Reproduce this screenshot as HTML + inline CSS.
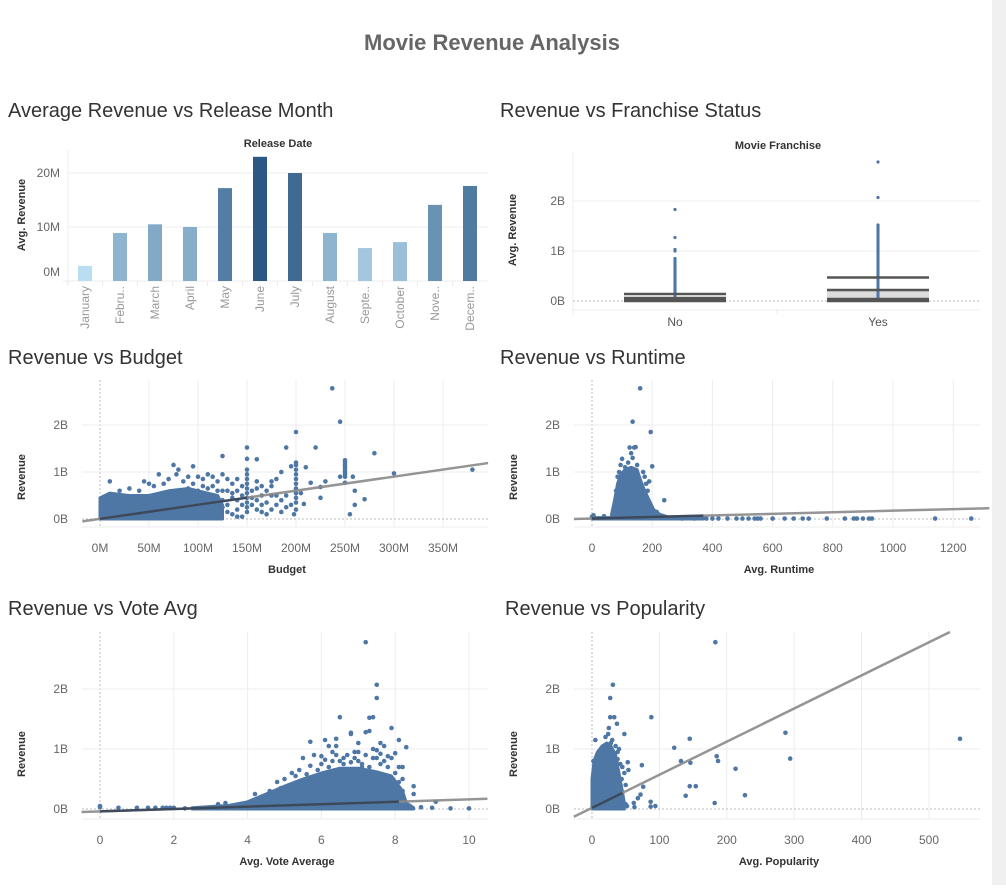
<!DOCTYPE html>
<html><head><meta charset="utf-8">
<style>
html,body{margin:0;padding:0;background:#fff;}
body{width:1006px;height:885px;overflow:hidden;position:relative;font-family:"Liberation Sans",sans-serif;}
svg text{font-family:"Liberation Sans",sans-serif;}
</style></head>
<body>
<svg id="dash" width="1006" height="885" viewBox="0 0 1006 885" xmlns="http://www.w3.org/2000/svg">
<rect x="992" y="0" width="14" height="885" fill="#f0f0f0"/>
<text x="492" y="50" text-anchor="middle" font-size="22" font-weight="bold" fill="#666">Movie Revenue Analysis</text>
<text x="8" y="117" font-size="20" fill="#333">Average Revenue vs Release Month</text>
<text x="500" y="117" font-size="20" fill="#333">Revenue vs Franchise Status</text>
<text x="8" y="364" font-size="20" fill="#333">Revenue vs Budget</text>
<text x="500" y="364" font-size="20" fill="#333">Revenue vs Runtime</text>
<text x="8" y="615" font-size="20" fill="#333">Revenue vs Vote Avg</text>
<text x="505" y="615" font-size="20" fill="#333">Revenue vs Popularity</text>
<g id="layer"></g>
</svg>
<script>
// ---- Data ----
const months = ["January","Febru..","March","April","May","June","July","August","Septe..","October","Nove..","Decem.."];
const monthRevenueM = [2.8,8.9,10.5,10.0,17.2,23.0,20.0,8.9,6.1,7.2,14.1,17.6];
const barTicks = [0,10,20];
const barTickLabels = ["0M","10M","20M"];

const franchiseCats = ["No","Yes"];
const boxLow = [0,0];
const boxQ1 = [0,0];
const boxMedian = [0.02,0.04];
const boxQ3 = [0.06,0.22];
const boxHigh = [0.14,0.47];
const outliersNo = [1.83,1.27,1.03,1.0,0.85,0.82,0.79,0.76,0.73,0.7,0.67,0.64,0.61,0.58,0.55,0.52,0.49,0.46,0.43,0.4,0.37,0.34,0.31,0.28,0.25,0.22,0.19,0.16];
const outliersYes = [2.78,2.07,1.52,1.49,1.45,1.41,1.37,1.33,1.29,1.25,1.21,1.17,1.13,1.09,1.05,1.01,0.97,0.93,0.89,0.85,0.81,0.77,0.73,0.69,0.65,0.61,0.57,0.53,0.49];
const revTicks = [0,1,2];
const revTickLabels = ["0B","1B","2B"];

const budgetTicks = [0,50,100,150,200,250,300,350];
const budgetTickLabels = ["0M","50M","100M","150M","200M","250M","300M","350M"];
const budgetDenseX = [0,0,10,30,50,70,90,100,110,120,125,125];
const budgetDenseY = [0,0.45,0.55,0.5,0.5,0.6,0.65,0.6,0.55,0.5,0.3,0];
const budgetPts = [[237,2.78],[245,2.07],[200,1.85],[190,1.52],[220,1.52],[150,1.52],[125,1.34],[280,1.4],[150,1.28],[160,1.27],[200,1.2],[200,1.15],[195,1.12],[210,1.1],[250,1.25],[250,1.2],[250,1.15],[250,1.1],[250,1.05],[250,1.0],[250,0.95],[250,0.9],[245,0.9],[258,0.9],[300,0.97],[380,1.05],[230,0.8],[215,0.77],[225,0.68],[225,0.45],[270,0.42],[260,0.6],[260,0.3],[255,0.1],[250,0.77],[200,1.05],[200,0.95],[200,0.85],[200,0.75],[200,0.65],[200,0.55],[200,0.45],[200,0.35],[200,0.2],[198,0.1],[205,0.55],[208,0.32],[185,1.0],[180,0.85],[175,0.8],[175,0.7],[170,0.6],[165,0.5],[160,0.8],[160,0.65],[160,0.4],[160,0.2],[150,1.05],[150,0.95],[150,0.85],[150,0.75],[150,0.65],[150,0.55],[150,0.45],[150,0.35],[150,0.25],[150,0.15],[145,0.05],[140,0.85],[140,0.6],[135,0.75],[130,0.85],[130,0.6],[125,0.95],[120,0.8],[115,0.9],[110,0.95],[105,0.7],[100,0.9],[95,1.12],[90,0.9],[80,1.05],[75,1.15],[78,0.95],[70,0.85],[60,0.95],[65,0.75],[50,0.75],[45,0.8],[10,0.8],[30,0.65],[40,0.6],[120,0.45],[130,0.3],[140,0.2],[110,0.65],[100,0.6],[90,0.65],[185,0.4],[175,0.2],[165,0.15],[190,0.25],[180,0.5],[170,0.35],[155,0.45],[135,0.45],[125,0.25],[140,0.4],[115,0.2],[145,0.3],[20,0.6],[55,0.7],[85,0.8],[95,0.75],[105,0.85],[115,0.7],[125,0.6],[130,0.15],[135,0.1],[140,0.05],[145,0.5],[155,0.6],[165,0.3],[170,0.1],[180,0.3],[185,0.15],[190,0.5],[195,0.3],[135,0.55],[145,0.7],[120,0.6],[125,0.4],[115,0.35],[155,0.3],[165,0.7],[175,0.5]];
const budgetTrend = [[-18,-0.05],[396,1.19]];

const runtimeTicks = [0,200,400,600,800,1000,1200];
const runtimeTickLabels = ["0","200","400","600","800","1000","1200"];
const runtimeDenseX = [65,65,75,85,95,110,130,150,160,175,190,205,225,250,250];
const runtimeDenseY = [0,0.1,0.4,0.75,0.95,1.05,1.1,1.05,0.85,0.6,0.4,0.2,0.1,0.05,0];
const runtimeBaseX = [0,0,370,370];
const runtimeBaseY = [0,0.03,0.03,0];
const runtimePts = [[160,2.78],[135,2.07],[195,1.85],[125,1.52],[140,1.52],[145,1.53],[130,1.4],[100,1.28],[200,1.12],[95,1.15],[170,1.0],[190,0.8],[185,0.6],[240,0.4],[215,0.15],[175,0.9],[110,1.1],[90,1.0],[120,1.2],[135,1.3],[150,1.15],[85,0.9],[80,0.6],[180,0.75],[0,0.05],[5,0.08],[40,0.06],[300,0.01],[340,0.01],[380,0.01],[400,0.01],[420,0.01],[450,0.01],[480,0.01],[500,0.01],[520,0.01],[540,0.01],[550,0.01],[560,0.01],[600,0.01],[640,0.01],[670,0.01],[700,0.01],[720,0.01],[780,0.01],[840,0.01],[870,0.01],[880,0.01],[900,0.01],[920,0.01],[930,0.01],[1140,0.01],[1260,0.01]];
const runtimeTrend = [[-60,0.0],[1320,0.23]];

const voteTicks = [0,2,4,6,8,10];
const voteTickLabels = ["0","2","4","6","8","10"];
const voteDenseX = [2.5,2.5,3.5,4,4.5,5,5.5,6,6.5,7,7.5,7.9,8.2,8.3,8.5,8.5];
const voteDenseY = [0,0.02,0.06,0.12,0.25,0.38,0.5,0.6,0.68,0.68,0.62,0.55,0.3,0.1,0.02,0];
const votePts = [[7.2,2.78],[7.5,2.07],[7.5,1.85],[6.5,1.53],[7.3,1.52],[7.4,1.53],[7.9,1.35],[6.8,1.27],[6.8,1.25],[7.2,1.28],[7.3,1.3],[5.7,1.12],[6.1,1.15],[6.4,1.17],[6.2,1.05],[6.4,1.05],[7.0,1.1],[7.6,1.1],[8.1,1.15],[8.3,1.03],[7.7,1.05],[7.4,1.0],[7.5,0.98],[7.8,0.88],[8.0,0.93],[7.9,0.85],[8.1,0.7],[8.2,0.7],[5.8,0.9],[5.5,0.85],[6.0,0.88],[6.7,0.9],[7.1,0.75],[7.3,0.7],[6.5,0.8],[6.9,0.85],[5.2,0.6],[5.6,0.58],[4.8,0.45],[4.9,0.35],[4.6,0.3],[4.2,0.25],[3.4,0.1],[3.2,0.08],[8.5,0.38],[8.5,0.25],[8.4,0.05],[8.7,0.03],[9.0,0.02],[9.1,0.12],[9.5,0.01],[10,0.01],[0,0.03],[0,0.05],[0.5,0.02],[1,0.02],[1.3,0.02],[1.5,0.02],[1.7,0.02],[1.8,0.02],[1.9,0.02],[2,0.02],[2.3,0.01],[8.2,0.5],[8.2,0.3],[8.1,0.45],[6.3,0.95],[6.9,0.95],[7.7,0.8],[7.1,0.7],[7.6,0.75],[6.6,0.75],[6.2,0.7],[5.9,0.65],[7.0,0.8],[7.4,0.85],[6.0,0.75],[6.3,0.8],[6.6,0.85],[6.8,0.78],[7.2,0.9],[7.5,0.85],[7.8,0.7],[8.0,0.6],[5.4,0.65],[5.7,0.72],[6.1,0.82],[6.4,0.9],[7.0,0.95],[7.6,0.92],[5.0,0.5],[5.3,0.55]];
const voteTrend = [[-0.5,-0.05],[10.5,0.17]];

const popTicks = [0,100,200,300,400,500];
const popTickLabels = ["0","100","200","300","400","500"];
const popDenseX = [0,0,3,8,15,22,28,35,40,45,48,48];
const popDenseY = [0,0.5,0.8,0.95,1.05,1.1,1.05,0.9,0.6,0.3,0.1,0];
const popPts = [[183,2.78],[31,2.07],[27,1.85],[27,1.53],[33,1.53],[88,1.53],[37,1.42],[25,1.35],[48,1.25],[5,1.15],[145,1.17],[287,1.27],[546,1.17],[122,1.02],[185,0.88],[294,0.84],[132,0.8],[146,0.77],[187,0.8],[74,0.73],[213,0.67],[145,0.38],[154,0.38],[76,0.37],[139,0.22],[227,0.23],[72,0.24],[68,0.18],[62,0.1],[87,0.12],[94,0.05],[87,0.04],[182,0.1],[50,0.08],[52,0.05],[63,0.03],[45,0.7],[54,0.65],[53,0.78],[38,0.83],[44,0.5],[43,0.2],[2,0.8],[6,0.85],[3,0.65],[40,1.0],[35,1.05],[28,1.1],[24,1.25],[20,1.2],[30,1.15],[38,0.95],[50,0.4],[48,0.6],[42,0.75]];
const popTrend = [[-27,-0.13],[531,2.95]];

// ---- Helpers ----
const NS = "http://www.w3.org/2000/svg";
const layer = document.getElementById("layer");
function add(tag, attrs, name, text) {
  const el = document.createElementNS(NS, tag);
  for (const k in attrs) el.setAttribute(k, attrs[k]);
  
  
  if (text !== undefined) el.textContent = text;
  layer.appendChild(el);
  return el;
}
const DOT = "#4e77a5";
const GRID = "#ececec";

// ---- Bar chart ----
const barY = v => 281 - v * 5.4;
const barX = i => 85 + 35 * i;
for (let i = 0; i < barTicks.length; i++) {
  const y = barY(barTicks[i]);
  if (barTicks[i] !== 0) add("line", {x1: 68, x2: 488, y1: y, y2: y, stroke: GRID}, "bar-gridline");
  add("text", {x: 60, y: y - (barTicks[i] === 0 ? 5 : -4), "text-anchor": "end", "font-size": 12, fill: "#666"}, "bar-y-tick-label", barTickLabels[i]);
}
add("line", {x1: 68, x2: 68, y1: 150, y2: 285, stroke: GRID}, "bar-y-axis-line");
add("line", {x1: 63, x2: 488, y1: 281, y2: 281, stroke: GRID}, "bar-x-axis-line");
add("text", {x: 278, y: 147, "text-anchor": "middle", "font-size": 11, fill: "#333", "font-weight": "bold"}, "bar-column-header", "Release Date");
add("text", {x: 25, y: 215, "text-anchor": "middle", "font-size": 11, fill: "#333", "font-weight": "bold", transform: "rotate(-90 25 215)"}, "bar-y-axis-title", "Avg. Revenue");
const maxRev = Math.max(...monthRevenueM), minRev = Math.min(...monthRevenueM);
function barColor(v) {
  const t = (v - minRev) / (maxRev - minRev);
  const a = [185, 221, 241], b = [42, 87, 131];
  return "rgb(" + a.map((c, k) => Math.round(c + (b[k] - c) * t)).join(",") + ")";
}
for (let i = 0; i < months.length; i++) {
  const x = barX(i);
  add("rect", {x: x - 7, y: barY(monthRevenueM[i]), width: 14, height: barY(0) - barY(monthRevenueM[i]), fill: barColor(monthRevenueM[i])}, "bar-" + months[i].replace(/\./g, "").toLowerCase());
  add("line", {x1: x - 17.5, x2: x - 17.5, y1: 281, y2: 286, stroke: GRID}, "bar-x-tick");
  add("text", {x: x + 4, y: 286, "text-anchor": "end", "font-size": 12, fill: "#999"}, "bar-x-tick-label", months[i]).setAttribute("transform", "rotate(-90 " + (x + 4) + " 286)");
}

// ---- Box plot ----
const boxY = v => 301 - v * 50;
const boxCx = [675, 878];
add("line", {x1: 573, x2: 573, y1: 152, y2: 315, stroke: GRID}, "box-y-axis-line");
add("line", {x1: 573, x2: 980, y1: 310, y2: 310, stroke: GRID}, "box-x-axis-line");
add("line", {x1: 777, x2: 777, y1: 310, y2: 315, stroke: GRID}, "box-category-divider");
for (let i = 0; i < revTicks.length; i++) {
  const y = boxY(revTicks[i]);
  add("line", {x1: 573, x2: 980, y1: y, y2: y, stroke: revTicks[i] === 0 ? "#bbb" : GRID, "stroke-dasharray": revTicks[i] === 0 ? "2,2" : "none"}, "box-gridline");
  add("text", {x: 565, y: y + 4, "text-anchor": "end", "font-size": 12, fill: "#666"}, "box-y-tick-label", revTickLabels[i]);
}
add("text", {x: 778, y: 149, "text-anchor": "middle", "font-size": 11, fill: "#333", "font-weight": "bold"}, "box-column-header", "Movie Franchise");
add("text", {x: 516, y: 230, "text-anchor": "middle", "font-size": 11, fill: "#333", "font-weight": "bold", transform: "rotate(-90 516 230)"}, "box-y-axis-title", "Avg. Revenue");
const outl = [outliersNo, outliersYes];
for (let i = 0; i < franchiseCats.length; i++) {
  const cx = boxCx[i];
  add("text", {x: cx, y: 326, "text-anchor": "middle", "font-size": 12, fill: "#555"}, "box-x-tick-label", franchiseCats[i]);
  add("rect", {x: cx - 51, y: boxY(boxQ3[i]), width: 102, height: boxY(boxQ1[i]) - boxY(boxQ3[i]), fill: "#dcdcdc"}, "box-" + franchiseCats[i].toLowerCase());
  add("line", {x1: cx, x2: cx, y1: boxY(boxHigh[i]), y2: boxY(boxLow[i]), stroke: DOT, "stroke-width": 3}, "box-inner-points");
  for (const v of outl[i]) add("circle", {cx: cx, cy: boxY(v), r: 1.6, fill: DOT}, "box-outlier-point");
  [boxHigh[i], boxQ3[i], boxMedian[i], boxLow[i]].forEach(v => add("line", {x1: cx - 51, x2: cx + 51, y1: boxY(v), y2: boxY(v), stroke: "#555", "stroke-width": 2.5}, "box-stat-line"));
}

// ---- Scatter panels ----
function scatter(p) {
  const {pre, xs, ys, left, right, top, bottom, ticks, tickLabels, denseX, denseY, pts, trend, xTitle, extra, trendDarkTo} = p;
  for (let i = 0; i < ticks.length; i++) {
    const x = xs(ticks[i]);
    add("line", {x1: x, x2: x, y1: top, y2: bottom, stroke: ticks[i] === 0 ? "#bbb" : GRID, "stroke-dasharray": ticks[i] === 0 ? "2,2" : "none"}, pre + "-x-gridline");
    add("text", {x: x, y: bottom + 25, "text-anchor": "middle", "font-size": 12, fill: "#666"}, pre + "-x-tick-label", tickLabels[i]);
  }
  for (let i = 0; i < revTicks.length; i++) {
    const y = ys(revTicks[i]);
    add("line", {x1: left, x2: right, y1: y, y2: y, stroke: revTicks[i] === 0 ? "#bbb" : GRID, "stroke-dasharray": revTicks[i] === 0 ? "2,2" : "none"}, pre + "-y-gridline");
    add("text", {x: left - 14, y: y + 4, "text-anchor": "end", "font-size": 12, fill: "#666"}, pre + "-y-tick-label", revTickLabels[i]);
  }
  add("line", {x1: left, x2: right, y1: bottom, y2: bottom, stroke: GRID}, pre + "-x-axis-line");
  const cy = (ys(0) + ys(2)) / 2 + 5;
  add("text", {x: left - 57, y: cy, "text-anchor": "middle", "font-size": 11, fill: "#333", "font-weight": "bold", transform: "rotate(-90 " + (left - 57) + " " + cy + ")"}, pre + "-y-axis-title", "Revenue");
  add("text", {x: (left + right) / 2 + 2, y: bottom + 46, "text-anchor": "middle", "font-size": 11, fill: "#333", "font-weight": "bold"}, pre + "-x-axis-title", xTitle);
  const dense = [[denseX, denseY]].concat(extra || []);
  for (const [dx, dy] of dense) {
    add("polygon", {points: dx.map((v, k) => xs(v) + "," + ys(dy[k])).join(" "), fill: DOT, stroke: DOT, "stroke-width": 3, "stroke-linejoin": "round"}, pre + "-dense-points");
  }
  for (const [a, b] of pts) add("circle", {cx: xs(a), cy: ys(b), r: 2.3, fill: DOT}, pre + "-point");
  add("line", {x1: xs(trend[0][0]), y1: ys(trend[0][1]), x2: xs(trend[1][0]), y2: ys(trend[1][1]), stroke: "#8a8a8a", "stroke-width": 2.5, opacity: 0.9}, pre + "-trend-line");
  if (trendDarkTo !== undefined) {
    const sl = (trend[1][1] - trend[0][1]) / (trend[1][0] - trend[0][0]);
    const yAt = v => trend[0][1] + sl * (v - trend[0][0]);
    add("line", {x1: xs(0), y1: ys(yAt(0)), x2: xs(trendDarkTo), y2: ys(yAt(trendDarkTo)), stroke: "#2a3a50", "stroke-width": 2.5, opacity: 0.8}, pre + "-trend-overlap");
  }
}
scatter({pre: "budget", xs: v => 100 + v * 0.98, ys: v => 519 - v * 47, left: 82, right: 488, top: 380, bottom: 527,
  ticks: budgetTicks, tickLabels: budgetTickLabels, denseX: budgetDenseX, denseY: budgetDenseY, pts: budgetPts, trend: budgetTrend, xTitle: "Budget", trendDarkTo: 150});
scatter({pre: "runtime", xs: v => 592 + v * 0.301, ys: v => 519 - v * 47, left: 574, right: 980, top: 380, bottom: 527,
  ticks: runtimeTicks, tickLabels: runtimeTickLabels, denseX: runtimeDenseX, denseY: runtimeDenseY, pts: runtimePts, trend: runtimeTrend, xTitle: "Avg. Runtime", extra: [[runtimeBaseX, runtimeBaseY]], trendDarkTo: 370});
scatter({pre: "vote", xs: v => 100 + v * 36.9, ys: v => 809 - v * 60, left: 82, right: 488, top: 632, bottom: 819,
  ticks: voteTicks, tickLabels: voteTickLabels, denseX: voteDenseX, denseY: voteDenseY, pts: votePts, trend: voteTrend, xTitle: "Avg. Vote Average", trendDarkTo: 8.1});
scatter({pre: "popularity", xs: v => 592 + v * 0.674, ys: v => 809 - v * 60, left: 574, right: 980, top: 632, bottom: 819,
  ticks: popTicks, tickLabels: popTickLabels, denseX: popDenseX, denseY: popDenseY, pts: popPts, trend: popTrend, xTitle: "Avg. Popularity", trendDarkTo: 45});
</script>
</body></html>
